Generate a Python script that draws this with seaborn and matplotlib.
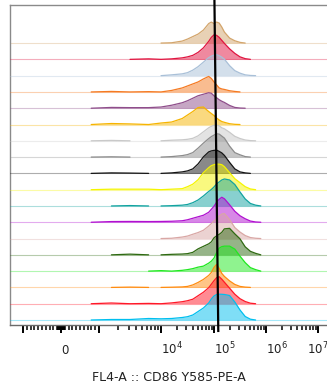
import numpy as np
import pandas as pd
import matplotlib
matplotlib.use("Agg")
import matplotlib.pyplot as plt
import seaborn as sns
from matplotlib.ticker import FixedLocator, FixedFormatter

# ---------------- data ----------------
# log10(FL4-A) grid at which histogram heights were read
log_grid = [2.9, 3.2, 3.5, 3.8, 4.0, 4.2, 4.4, 4.5, 4.6, 4.7, 4.8, 4.9, 4.95,
            5.0, 5.05, 5.1, 5.15, 5.2, 5.3, 5.4, 5.5, 5.6, 5.7, 5.8, 5.9]

# relative histogram heights per sample (top row first)
tan      = [0, 0, 0, 0, 0, 0.3, 2, 4, 6.5, 9, 13, 19.5, 21, 19.5, 21, 20, 16, 11, 5, 2.3, 0.7, 0, 0, 0, 0]
crimson  = [0, 0, 0, 0.5, 0, 0.5, 1.5, 2.5, 4, 7, 11.5, 18, 22, 24.5, 24, 22, 19, 16, 10.5, 6, 2.5, 0.7, 0, 0, 0]
steel    = [0, 0, 0, 0, 0, 0.8, 1.8, 3, 5.5, 9, 13.5, 18, 19.5, 20.5, 21, 20, 18.5, 16.5, 10, 5, 2.5, 0.8, 0.2, 0, 0]
orange1  = [0, 0.5, 0, 0.3, 0, 1.5, 4, 6, 8, 10, 13, 15.5, 13.5, 10, 7, 4, 3, 2.5, 1.2, 0.5, 0, 0, 0, 0, 0]
mauve    = [0, 0.8, 0.6, 0.6, 1.2, 3, 5.5, 7.5, 10, 12.5, 14, 15.5, 15, 12.5, 10.5, 8.5, 7, 5.8, 2.8, 0.8, 0.2, 0, 0, 0, 0]
gold     = [0, 1, 0.6, 0, 1.5, 2.5, 6, 9.5, 13, 17, 17.5, 13, 11, 9, 6.5, 4.5, 3, 2.2, 0.8, 0.2, 0, 0, 0, 0, 0]
silver   = [0, 0.4, 0, 0, 0, 0.6, 1, 1.5, 2.5, 5, 9, 13, 14.5, 15.5, 15.7, 15, 13, 12, 8.5, 4.5, 2.3, 0.8, 0.2, 0, 0]
grey     = [0, 0.3, 0, 0, 0, 0.5, 1.5, 2.5, 4.5, 9, 14, 18.5, 20.5, 22, 23.3, 23, 21, 19, 11, 4.5, 2.3, 0.5, 0, 0, 0]
black    = [0, 0.5, 0.3, 0, 0, 0.5, 1.5, 2.5, 4.5, 9.5, 16.5, 21.5, 22.5, 23, 23.3, 22, 20.5, 18, 11, 4.5, 1.5, 0.5, 0, 0, 0]
yellow   = [0, 0.5, 0.5, 0.5, 0, 0.5, 1, 3, 5.5, 10, 17, 22, 24, 25, 25.5, 25.5, 25, 23, 17, 11, 7, 3, 0.7, 0, 0]
teal     = [0, 0, 0.4, 0, 0, 0.3, 0.8, 1.5, 3.3, 6, 10, 14.5, 16.5, 19, 22, 24, 26, 27, 26, 21.5, 14, 7, 2.5, 0.8, 0]
violet   = [0, 0.7, 0.8, 0.7, 0.8, 1, 1.5, 2.5, 4, 5.5, 7, 10, 13, 16, 20, 23, 25, 23.5, 17.5, 11, 6.5, 3.5, 1.2, 0.3, 0]
rosy     = [0, 0, 0, 0, 0, 0.3, 1.5, 2.5, 4.3, 6, 8.3, 12.5, 15, 17.5, 20, 22.5, 24.5, 25, 19, 11, 6.5, 3, 1, 0.3, 0]
olive    = [0, 0, 0.7, 0, 0, 0.5, 0.8, 1.2, 2.5, 6, 8.5, 11, 13, 17, 19, 20.5, 22.5, 26, 26.5, 21, 16, 8, 3.5, 1.5, 0]
lime     = [0, 0, 0, 0, 0.5, 0, 0.8, 1.5, 2.5, 4, 5, 8, 10, 13, 18.5, 23, 24.5, 25, 25, 22, 15, 8.5, 3.5, 1.5, 0]
orange2  = [0, 0, 0.3, 0, 0, 0.2, 0.5, 1, 2.5, 5, 8, 12, 15, 20, 23, 19, 14, 11, 6.5, 3, 1, 0.3, 0, 0, 0]
red      = [0, 0.7, 0, 0.3, 0, 0.8, 2, 3, 4.5, 8, 11.5, 16, 19.5, 23, 26, 27, 24.5, 21.5, 15.5, 9.5, 5, 2.2, 0.5, 0, 0]
cyan     = [0, 0.5, 0.5, 1.5, 1.2, 1.5, 2.5, 3.3, 5, 8.5, 12, 17, 21, 24, 25.5, 25.8, 25.7, 25.5, 24.5, 18, 10, 3.5, 0.8, 0, 0]

series = [tan, crimson, steel, orange1, mauve, gold, silver, grey, black,
          yellow, teal, violet, rosy, olive, lime, orange2, red, cyan]
line_colors = ["#D3A56C", "#E01540", "#A9C0D8", "#F57A22", "#8F4E8B", "#F6B400",
               "#C9C9C9", "#8C8C8C", "#151515", "#F5F500", "#12A3A0", "#B010D0",
               "#D9A7A5", "#2F6A12", "#20E820", "#FF8C10", "#FF1828", "#00BFEF"]

gate_x = [1.02e5, 1.21e5]

major_vals = [-1e3, 0, 1e3, 1e4, 1e5, 1e6, 1e7]
major_labels = ["", "0", "", r"$10^4$", r"$10^5$", r"$10^6$", r"$10^7$"]
xlabel = "FL4-A :: CD86 Y585-PE-A"

# ---------------- biexponential-like scale ----------------
T_KNOTS = np.array([-5, -2, -1, 0, 1, 2, 3, 4, 5, 9], dtype=float)
U_KNOTS = np.array([-4.905, -1.905, -0.724, 0, 0.724, 1.905, 2.914, 3.905, 4.895, 8.895])


def _t_of(x):
    x = np.asarray(x, dtype=float)
    ax_ = np.abs(x)
    lg = np.log10(np.maximum(ax_, 1e-12) / 1000.0)
    return np.where(ax_ <= 1000, x / 1000.0, np.sign(x) * (1 + lg))


def _x_of(t):
    t = np.asarray(t, dtype=float)
    at = np.abs(t)
    return np.where(at <= 1, t * 1000.0, np.sign(t) * 1000.0 * 10 ** (np.maximum(at, 1) - 1))


def fwd(x):
    return np.interp(_t_of(x), T_KNOTS, U_KNOTS)


def inv(u):
    return _x_of(np.interp(u, U_KNOTS, T_KNOTS))


# ---------------- figure ----------------
sns.set_theme(style="white")
plt.rcParams["font.family"] = ["DejaVu Sans"]

W, H = 327, 387
fig = plt.figure(figsize=(W / 100, H / 100), dpi=100)
ax = fig.add_axes([10 / W, (H - 325) / H, 317 / W, 320 / H])
ax.set_xscale("function", functions=(fwd, inv))

row_px = 16.29
n = len(series)
xvals = 10 ** np.array(log_grid)
ax.set_ylim(-5 / row_px, 315 / row_px)
ax.set_xlim(float(inv((10 - 61) / 52.5)), float(inv((327 - 61) / 52.5)))

for i, (h, c) in enumerate(zip(series, line_colors)):
    base = n - 1 - i
    hv = np.array(h, dtype=float)
    y = base + hv / row_px
    z = 2 + i * 3
    ax.axhline(base, color=c, alpha=0.35, lw=0.8, zorder=z)
    ax.fill_between(xvals, base, y, color=c, alpha=0.5, lw=0, zorder=z + 1)
    # outline: only segments that leave the baseline; contiguous runs share a unit
    rows = []
    seg = 0
    prev_on = False
    for k in range(len(hv) - 1):
        on = hv[k] > 0 or hv[k + 1] > 0
        if on:
            if not prev_on:
                seg += 1
                rows.append((seg, xvals[k], y[k]))
            rows.append((seg, xvals[k + 1], y[k + 1]))
        prev_on = on
    df = pd.DataFrame(rows, columns=["seg", "x", "y"])
    sns.lineplot(data=df, x="x", y="y", units="seg", estimator=None, color=c,
                 lw=0.9, ax=ax, sort=False, zorder=z + 2)

ax.plot(gate_x, [1.0156, -0.022], color="black", lw=1.6, zorder=200,
        transform=ax.get_xaxis_transform(), clip_on=False, solid_capstyle="butt")

# spines
for s in ["left", "top", "bottom"]:
    ax.spines[s].set_visible(True)
    ax.spines[s].set_color("#8a8a8a")
    ax.spines[s].set_linewidth(1.0)
ax.spines["bottom"].set_color("#6a6a6a")
ax.spines["right"].set_visible(False)

# ticks
minor = []
for d in [10, 100]:
    for k in range(1, 10):
        minor += [k * d, -k * d]
for d in [1e3, 1e4, 1e5, 1e6]:
    for k in range(2, 10):
        minor.append(k * d)
ax.xaxis.set_major_locator(FixedLocator(major_vals))
ax.xaxis.set_major_formatter(FixedFormatter(major_labels))
ax.xaxis.set_minor_locator(FixedLocator(minor))
ax.tick_params(axis="x", which="major", bottom=True, direction="out", length=6,
               width=1.4, color="black", pad=15, labelsize=8.5, labelcolor="#222222")
ax.tick_params(axis="x", which="minor", bottom=True, direction="out", length=3.5,
               width=1.1, color="black")
ax.tick_params(axis="y", left=False, labelleft=False)
ax.set_yticks([])
for lbl, v in zip(ax.get_xticklabels(), major_vals):
    lbl.set_va("baseline")
    lbl.set_ha("center" if v == 1e7 else "left")

ax.set_ylabel("")
ax.set_xlabel(xlabel, fontsize=9, color="#222222", labelpad=10)
ax.grid(False)
leg = ax.get_legend()
if leg is not None:
    leg.remove()

fig.savefig("out.png", dpi=100, facecolor="white")
